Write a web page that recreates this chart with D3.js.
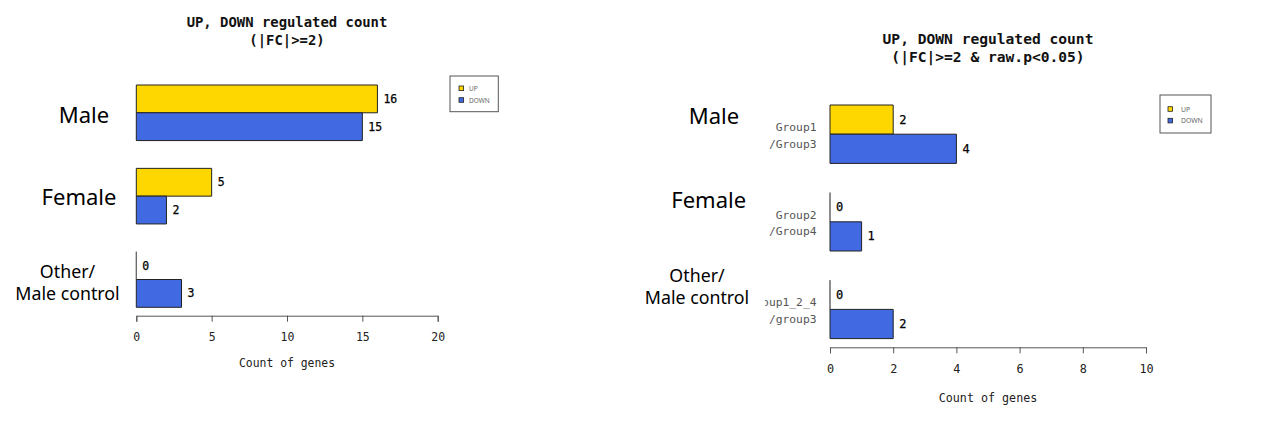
<!DOCTYPE html>
<html>
<head>
<meta charset="utf-8">
<script src="https://cdn.jsdelivr.net/npm/d3@7"></script>
<style>
  html, body { margin: 0; padding: 0; background: #fff; }
  svg { display: block; }
</style>
</head>
<body>
<svg id="chart" width="1280" height="432"></svg>
<script>
// ---------- data ----------
const categories = [["Male"], ["Female"], ["Other/", "Male control"]];
const seriesNames = ["UP", "DOWN"];
const seriesColors = ["#FFD700", "#4169E1"];

const leftTitle = ["UP, DOWN regulated count", "(|FC|>=2)"];
const leftUp = [16, 5, 0];
const leftDown = [15, 2, 3];
const leftTicks = [0, 5, 10, 15, 20];

const rightTitle = ["UP, DOWN regulated count", "(|FC|>=2 & raw.p<0.05)"];
const rightUp = [2, 0, 0];
const rightDown = [4, 1, 2];
const rightTicks = [0, 2, 4, 6, 8, 10];
const rightGroupLabels = [["Group1", "/Group3"], ["Group2", "/Group4"], ["Group1_2_4", "/group3"]];

const axisTitle = "Count of genes";

// ---------- layout ----------
const MONO = "'DejaVu Sans Mono', 'Liberation Mono', monospace";
const SANS = "'Noto Sans', 'Open Sans', sans-serif";

const panels = [
  {
    title: leftTitle, up: leftUp, down: leftDown, ticks: leftTicks,
    x0: 136.3, x1: 437.7, yTop: 85, yBot: 307.3, axisY: 315.7,
    titleY: [26.5, 44.5], titleSize: 13.9, fs: 11, valFs: 11.5,
    tickLabelDy: 21, axisTitleDy: 47.6,
    catPos: [{x: 84, dy: 0.8}, {x: 79, dy: 0}, {x: 67.5, dy: 2.7}],
    legend: {x: 450, y: 76, w: 48.3, h: 35.7, sqX: 459, sqY: [86, 97.7], sq: 4.6, txX: 469, fs: 6.5},
    groupLabels: null
  },
  {
    title: rightTitle, up: rightUp, down: rightDown, ticks: rightTicks,
    x0: 830, x1: 1146, yTop: 105, yBot: 338.6, axisY: 347.3,
    titleY: [43.5, 62], titleSize: 14.6, fs: 11.3, valFs: 12,
    tickLabelDy: 22, axisTitleDy: 50.4,
    catPos: [{x: 714, dy: -19}, {x: 708.7, dy: -22.4}, {x: 697, dy: -23.3}],
    legend: {x: 1160, y: 95, w: 51, h: 38, sqX: 1168, sqY: [106.7, 118.3], sq: 4.6, txX: 1181, fs: 6.8},
    groupLabels: rightGroupLabels, groupLabelX: 816.5, clipX: 765
  }
];

const svg = d3.select("#chart");
svg.append("rect").attr("width", 1280).attr("height", 432).attr("fill", "#fff");

panels.forEach((p, pi) => {
  const g = svg.append("g");
  const maxV = p.ticks[p.ticks.length - 1];
  const x = d3.scaleLinear().domain([0, maxV]).range([p.x0, p.x1]);
  const yGroup = d3.scaleBand().domain(d3.range(categories.length))
    .range([p.yTop, p.yBot]).paddingInner(1 / 3).paddingOuter(0);
  const ySeries = d3.scaleBand().domain(d3.range(seriesNames.length))
    .range([0, yGroup.bandwidth()]).padding(0);

  const values = [p.up, p.down];

  // title
  p.title.forEach((t, i) => {
    g.append("text")
      .attr("x", (p.x0 + p.x1) / 2).attr("y", p.titleY[i])
      .attr("text-anchor", "middle")
      .attr("font-family", MONO).attr("font-weight", "bold")
      .attr("font-size", p.titleSize).attr("fill", "#111")
      .text(t);
  });

  // bars
  categories.forEach((c, ci) => {
    seriesNames.forEach((s, si) => {
      const v = values[si][ci];
      const yb = yGroup(ci) + ySeries(si);
      const h = ySeries.bandwidth();
      const xa = x(0), xb = x(v);
      const path = d3.path();
      path.moveTo(xa, yb); path.lineTo(xb, yb); path.lineTo(xb, yb + h);
      path.lineTo(xa, yb + h); path.closePath();
      g.append("path").attr("d", path.toString())
        .attr("fill", seriesColors[si])
        .attr("stroke", v === 0 ? "#666" : "#222").attr("stroke-width", 1);
      g.append("text")
        .attr("x", xb + 6).attr("y", yb + h / 2)
        .attr("dominant-baseline", "central")
        .attr("font-family", MONO).attr("font-size", p.valFs)
        .attr("fill", "#000").attr("stroke", "#000").attr("stroke-width", 0.25)
        .text(v);
    });
  });

  // axis
  const axis = d3.axisBottom(x).tickValues(p.ticks).tickSize(6).tickSizeOuter(6)
    .tickPadding(11).tickFormat(d3.format("d"));
  const ag = g.append("g").attr("transform", `translate(0,${p.axisY})`).call(axis);
  ag.attr("font-family", null).attr("font-size", null);
  ag.select(".domain").attr("stroke", "#555");
  ag.selectAll(".tick line").attr("stroke", "#555");
  ag.selectAll(".tick text").attr("font-family", MONO).attr("font-size", p.fs + 0.5).attr("fill", "#222");

  g.append("text")
    .attr("x", (p.x0 + p.x1) / 2).attr("y", p.axisY + p.axisTitleDy)
    .attr("text-anchor", "middle").attr("dominant-baseline", "central")
    .attr("font-family", MONO).attr("font-size", p.fs + 0.4).attr("fill", "#222")
    .text(axisTitle);

  // group labels (right panel)
  if (p.groupLabels) {
    const clipId = "clip" + pi;
    svg.append("defs").append("clipPath").attr("id", clipId)
      .append("rect").attr("x", p.clipX).attr("y", 0).attr("width", 1280).attr("height", 432);
    const gl = g.append("g").attr("clip-path", `url(#${clipId})`);
    p.groupLabels.forEach((lines, ci) => {
      const cy = yGroup(ci) + yGroup.bandwidth() / 2;
      lines.forEach((ln, li) => {
        gl.append("text")
          .attr("x", p.groupLabelX).attr("y", cy + (li === 0 ? -6.5 : 10))
          .attr("text-anchor", "end").attr("dominant-baseline", "central")
          .attr("font-family", MONO).attr("font-size", p.fs).attr("fill", "#555")
          .text(ln);
      });
    });
  }

  // category labels
  categories.forEach((lines, ci) => {
    const cy = yGroup(ci) + yGroup.bandwidth() / 2 + p.catPos[ci].dy;
    const multi = lines.length > 1;
    const fs = multi ? 17.8 : 22;
    const lh = 22;
    lines.forEach((ln, li) => {
      g.append("text")
        .attr("x", p.catPos[ci].x)
        .attr("y", cy + (li - (lines.length - 1) / 2) * lh)
        .attr("text-anchor", "middle").attr("dominant-baseline", "central")
        .attr("font-family", SANS).attr("font-size", fs).attr("fill", "#000")
        .text(ln);
    });
  });

  // legend
  const L = p.legend;
  g.append("rect").attr("x", L.x).attr("y", L.y).attr("width", L.w).attr("height", L.h)
    .attr("fill", "#fff").attr("stroke", "#555").attr("stroke-width", 1);
  seriesNames.forEach((s, si) => {
    g.append("rect").attr("x", L.sqX).attr("y", L.sqY[si]).attr("width", L.sq).attr("height", L.sq)
      .attr("fill", seriesColors[si]).attr("stroke", "#222").attr("stroke-width", 0.8);
    g.append("text").attr("x", L.txX).attr("y", L.sqY[si] + L.sq / 2)
      .attr("dominant-baseline", "central")
      .attr("font-family", SANS).attr("font-size", L.fs).attr("fill", "#666")
      .text(s);
  });
});
</script>
</body>
</html>
